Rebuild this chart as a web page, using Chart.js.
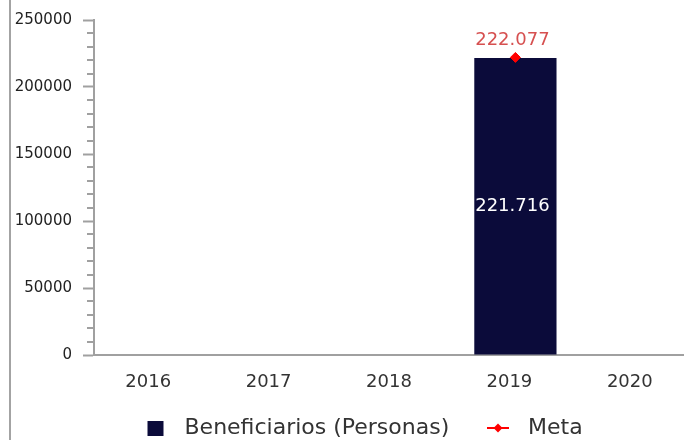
<!DOCTYPE html>
<html>
<head>
<meta charset="utf-8">
<script src="https://cdn.jsdelivr.net/npm/chart.js@4"></script>
<style>
  html, body { margin: 0; padding: 0; overflow: hidden; background: #fff; width: 684px; height: 440px; }
  #wrap { position: absolute; left: 0; top: 0; width: 702px; height: 449px; }
  #edge { position: absolute; left: 9px; top: 0; width: 2px; height: 440px; background: #a3a3a3; }
</style>
</head>
<body>
<div id="wrap"><canvas id="c" width="702" height="449"></canvas></div>
<div id="edge"></div>
<script>
// ---- data ----
const categories = ['2016', '2017', '2018', '2019', '2020'];
const beneficiarios = [null, null, null, 221716, null];
const meta = [null, null, null, 222077, null];
const yMin = 0;
const yMax = 250000;
const yMajorStep = 50000;
const yMinorStep = 10000;
const seriesNames = ['Beneficiarios (Personas)', 'Meta'];

// ---- styles ----
const BAR_COLOR = '#0b0b3a';
const META_COLOR = '#ff0000';
const META_LABEL_COLOR = '#d65050';
const AXIS_COLOR = '#a0a0a0';
const TEXT_COLOR = '#333333';
const FONT = '"DejaVu Sans", Verdana, sans-serif';
const LEGEND_SIZE = 22;
const CANVAS_W = 702;

function fmt(v) {
  return String(v).replace(/\B(?=(\d{3})+(?!\d))/g, '.');
}

// legend geometry
const mctx = document.createElement('canvas').getContext('2d');
mctx.font = LEGEND_SIZE + 'px ' + FONT;
const T1 = mctx.measureText(seriesNames[0]).width;
const T2 = mctx.measureText(seriesNames[1]).width;
const R = CANVAS_W, s1 = 184.5, s2 = 528, h = LEGEND_SIZE / 2;
let P = R - T1 - T2 - 2 * s1;
if (P < 2) P = 2;
let W = (s2 - s1) - h - T1 - P;
if (W < 32) W = 32;
const x1 = s1 - h - W;
const x2 = s2 - h - W;
const legendHeight = LEGEND_SIZE + P + 10;
const xAxisHeight = 449 - legendHeight - 355;

function makeImg(w, hgt, draw) {
  const c = document.createElement('canvas');
  c.width = Math.round(w); c.height = hgt;
  draw(c.getContext('2d'));
  return c;
}
const IMG_H = 22;
const imgBar = makeImg(W, IMG_H, (ctx) => {
  ctx.fillStyle = BAR_COLOR;
  ctx.fillRect(Math.round(147 - x1), IMG_H / 2 - 7, 16, 15);
});
const imgMeta = makeImg(W, IMG_H, (ctx) => {
  const lx = Math.round(487 - x2);
  ctx.strokeStyle = META_COLOR;
  ctx.lineWidth = 2;
  ctx.beginPath();
  ctx.moveTo(lx, IMG_H / 2); ctx.lineTo(lx + 22, IMG_H / 2);
  ctx.stroke();
  ctx.fillStyle = META_COLOR;
  const cx = lx + 11, cy = IMG_H / 2, r = 4.5;
  ctx.beginPath();
  ctx.moveTo(cx, cy - r); ctx.lineTo(cx + r, cy); ctx.lineTo(cx, cy + r); ctx.lineTo(cx - r, cy);
  ctx.closePath(); ctx.fill();
});

const extrasPlugin = {
  id: 'extras',
  afterDraw(chart) {
    const ctx = chart.ctx;
    const y = chart.scales.y;
    const left = chart.chartArea.left;
    ctx.save();
    ctx.strokeStyle = AXIS_COLOR;
    ctx.lineWidth = 2;
    for (let v = yMin + yMinorStep; v < yMax; v += yMinorStep) {
      if (v % yMajorStep === 0) continue;
      const py = Math.round(y.getPixelForValue(v));
      ctx.beginPath();
      ctx.moveTo(left - 7, py);
      ctx.lineTo(left, py);
      ctx.stroke();
    }
    ctx.restore();
  },
  afterDatasetsDraw(chart) {
    const ctx = chart.ctx;
    ctx.save();
    ctx.font = '18px ' + FONT;
    ctx.textAlign = 'center';
    ctx.textBaseline = 'middle';
    const barMeta = chart.getDatasetMeta(0);
    barMeta.data.forEach((el, i) => {
      const v = beneficiarios[i];
      if (v == null) return;
      ctx.fillStyle = '#ffffff';
      ctx.fillText(fmt(v), el.x - 3, (el.y + el.base) / 2);
    });
    const lineMeta = chart.getDatasetMeta(1);
    lineMeta.data.forEach((el, i) => {
      const v = meta[i];
      if (v == null) return;
      ctx.fillStyle = META_LABEL_COLOR;
      ctx.fillText(fmt(v), el.x - 3, el.y - 17);
    });
    ctx.restore();
  }
};

new Chart(document.getElementById('c'), {
  data: {
    labels: categories,
    datasets: [
      {
        type: 'bar',
        label: seriesNames[0],
        data: beneficiarios,
        backgroundColor: BAR_COLOR,
        borderWidth: 0,
        barPercentage: 0.683,
        categoryPercentage: 1,
        order: 2
      },
      {
        type: 'line',
        label: seriesNames[1],
        data: meta,
        borderColor: META_COLOR,
        backgroundColor: META_COLOR,
        pointStyle: 'rectRot',
        pointRadius: 5,
        pointBorderWidth: 1,
        showLine: false,
        order: 1
      }
    ]
  },
  options: {
    responsive: false,
    animation: false,
    events: [],
    layout: { padding: { top: 20, left: 0, right: 0, bottom: 0 } },
    plugins: {
      tooltip: { enabled: false },
      legend: {
        position: 'bottom',
        align: 'center',
        labels: {
          usePointStyle: true,
          pointStyleWidth: W,
          padding: P,
          color: TEXT_COLOR,
          font: { family: FONT, size: LEGEND_SIZE },
          generateLabels: () => [
            { text: seriesNames[0], pointStyle: imgBar, fillStyle: BAR_COLOR, strokeStyle: BAR_COLOR, lineWidth: 0, hidden: false, datasetIndex: 0, fontColor: TEXT_COLOR },
            { text: seriesNames[1], pointStyle: imgMeta, fillStyle: META_COLOR, strokeStyle: META_COLOR, lineWidth: 0, hidden: false, datasetIndex: 1, fontColor: TEXT_COLOR }
          ]
        }
      }
    },
    scales: {
      x: {
        offset: true,
        grid: { display: false, drawTicks: false },
        border: { display: true, color: AXIS_COLOR, width: 2 },
        ticks: {
          color: TEXT_COLOR,
          font: { family: FONT, size: 18 },
          padding: 17,
          labelOffset: -6,
          maxRotation: 0,
          autoSkip: false
        },
        afterFit(scale) { scale.height = xAxisHeight; }
      },
      y: {
        min: yMin,
        max: yMax,
        grid: {
          display: true,
          drawOnChartArea: false,
          drawTicks: true,
          tickLength: 11,
          tickColor: AXIS_COLOR,
          tickWidth: 2
        },
        border: { display: true, color: AXIS_COLOR, width: 2 },
        ticks: {
          stepSize: yMajorStep,
          color: '#222222',
          font: { family: FONT, size: 15 },
          padding: 11,
          callback: (v) => String(v)
        },
        afterFit(scale) { scale.width = 94; }
      }
    }
  },
  plugins: [extrasPlugin]
});
</script>
</body>
</html>
